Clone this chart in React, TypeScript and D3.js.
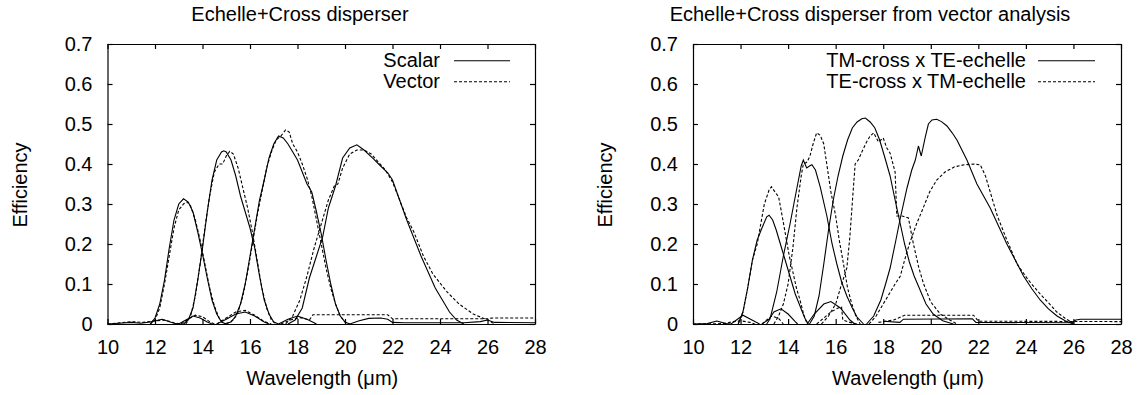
import * as d3 from "d3";
import React, { useEffect, useRef } from "react";

type Pt = [number, number];

// ---- left panel: scalar (solid) vs vector (dashed) ----
const scalarOrder1: Pt[] = [[11.8,0],[12.0,0.015],[12.2,0.05],[12.4,0.11],[12.6,0.19],[12.8,0.26],[13.0,0.30],[13.2,0.313],[13.4,0.305],[13.6,0.28],[13.8,0.23],[14.0,0.175],[14.2,0.115],[14.4,0.06],[14.6,0.025],[14.8,0.005],[15.0,0]];
const scalarOrder2: Pt[] = [[13.2,0],[13.4,0.01],[13.6,0.04],[13.8,0.11],[14.0,0.19],[14.2,0.28],[14.4,0.36],[14.6,0.41],[14.8,0.43],[14.9,0.433],[15.0,0.43],[15.2,0.41],[15.4,0.37],[15.6,0.32],[15.8,0.28],[16.0,0.24],[16.2,0.19],[16.4,0.12],[16.6,0.06],[16.8,0.025],[17.0,0.005],[17.2,0]];
const scalarOrder3: Pt[] = [[14.9,0],[15.2,0.005],[15.4,0.02],[15.6,0.05],[15.8,0.10],[16.0,0.17],[16.2,0.24],[16.4,0.31],[16.6,0.36],[16.8,0.415],[17.0,0.45],[17.2,0.47],[17.4,0.465],[17.6,0.45],[17.8,0.43],[18.0,0.41],[18.2,0.38],[18.4,0.35],[18.6,0.33],[18.8,0.28],[19.0,0.225],[19.2,0.16],[19.4,0.10],[19.6,0.05],[19.8,0.02],[20.0,0.005],[20.2,0]];
const scalarOrder4: Pt[] = [[17.6,0],[17.9,0.01],[18.2,0.04],[18.5,0.115],[18.8,0.17],[19.06,0.218],[19.3,0.29],[19.6,0.345],[19.9,0.415],[20.2,0.44],[20.5,0.448],[20.8,0.435],[21.2,0.413],[21.5,0.395],[21.8,0.378],[22.0,0.36],[22.3,0.31],[22.6,0.26],[22.9,0.215],[23.2,0.17],[23.5,0.13],[23.8,0.09],[24.1,0.06],[24.4,0.03],[24.7,0.01],[25.0,0]];
const scalarSmall1: Pt[] = [[10.0,0],[10.5,0.002],[11.0,0.004],[11.4,0.002],[11.8,0.005],[12.3,0.012],[12.8,0.002],[13.0,0]];
const scalarSmall2: Pt[] = [[13.0,0],[13.3,0.01],[13.6,0.02],[13.9,0.015],[14.2,0.005],[14.4,0]];
const scalarSmall3: Pt[] = [[14.6,0],[15.0,0.012],[15.4,0.025],[15.8,0.03],[16.2,0.02],[16.6,0.005],[16.8,0]];
const scalarSmall4: Pt[] = [[17.2,0],[17.6,0.012],[18.0,0.02],[18.4,0.012],[18.8,0]];
const scalarSmall5: Pt[] = [[20.2,0],[20.6,0.008],[21.0,0.014],[21.5,0.015],[21.8,0.012],[22.0,0.004],[22.5,0.003],[25.0,0.003],[25.7,0.006],[26.0,0.01],[26.3,0.004],[28.0,0.003]];

const vectorOrder1: Pt[] = [[11.8,0],[12.0,0.01],[12.2,0.04],[12.4,0.10],[12.6,0.17],[12.8,0.24],[13.0,0.285],[13.2,0.30],[13.35,0.305],[13.5,0.295],[13.7,0.26],[13.9,0.21],[14.1,0.15],[14.3,0.09],[14.5,0.045],[14.7,0.015],[14.9,0]];
const vectorOrder2: Pt[] = [[13.3,0],[13.5,0.02],[13.7,0.07],[13.9,0.15],[14.1,0.24],[14.3,0.32],[14.5,0.38],[14.7,0.40],[14.85,0.40],[15.0,0.42],[15.15,0.432],[15.3,0.425],[15.5,0.39],[15.7,0.34],[15.9,0.29],[16.1,0.23],[16.3,0.16],[16.5,0.09],[16.7,0.04],[16.9,0.01],[17.1,0]];
const vectorOrder3: Pt[] = [[15.0,0],[15.3,0.01],[15.5,0.03],[15.7,0.07],[15.9,0.13],[16.1,0.2],[16.3,0.27],[16.5,0.33],[16.7,0.39],[16.9,0.43],[17.1,0.46],[17.3,0.47],[17.5,0.485],[17.65,0.48],[17.8,0.45],[18.0,0.43],[18.2,0.40],[18.4,0.365],[18.6,0.32],[18.8,0.26],[19.0,0.20],[19.2,0.14],[19.4,0.09],[19.6,0.05],[19.8,0.02],[20.0,0.005],[20.2,0]];
const vectorOrder4: Pt[] = [[17.5,0],[17.8,0.02],[18.1,0.06],[18.4,0.12],[18.7,0.19],[19.0,0.25],[19.3,0.31],[19.55,0.345],[19.7,0.35],[19.9,0.39],[20.2,0.425],[20.5,0.435],[20.8,0.435],[21.1,0.425],[21.4,0.405],[21.7,0.385],[22.0,0.355],[22.3,0.31],[22.6,0.265],[22.9,0.23],[23.3,0.17],[23.7,0.125],[24.3,0.08],[24.8,0.05],[25.4,0.025],[26.0,0.01],[26.3,0]];
const vectorSmall1: Pt[] = [[10.0,0],[10.5,0.003],[11.0,0.006],[11.5,0.004],[12.0,0.008],[12.4,0.01],[12.8,0.003],[13.1,0]];
const vectorSmall2: Pt[] = [[13.1,0],[13.4,0.012],[13.7,0.022],[14.0,0.018],[14.3,0.006],[14.5,0]];
const vectorSmall3: Pt[] = [[14.6,0],[15.0,0.015],[15.4,0.03],[15.8,0.034],[16.2,0.022],[16.6,0.006],[16.9,0]];
const vectorSmall4: Pt[] = [[17.3,0],[17.7,0.01],[18.1,0.016],[18.5,0.01],[18.65,0.023],[21.8,0.023],[22.0,0.013],[26.0,0.013],[26.2,0.015],[28.0,0.015]];

// ---- right panel: TM-cross x TE-echelle (solid) vs TE-cross x TM-echelle (dashed) ----
const tmOrder1: Pt[] = [[11.9,0],[12.1,0.03],[12.3,0.09],[12.5,0.16],[12.7,0.21],[12.9,0.24],[13.1,0.268],[13.2,0.272],[13.35,0.26],[13.5,0.235],[13.7,0.195],[13.9,0.155],[14.1,0.115],[14.3,0.075],[14.5,0.045],[14.7,0.015],[14.85,0]];
const tmOrder2: Pt[] = [[13.1,0],[13.24,0.013],[13.52,0.08],[13.8,0.17],[14.08,0.25],[14.37,0.34],[14.55,0.395],[14.64,0.41],[14.78,0.39],[14.9,0.395],[15.0,0.398],[15.15,0.385],[15.35,0.343],[15.63,0.27],[15.85,0.2],[16.05,0.15],[16.25,0.105],[16.47,0.07],[16.7,0.04],[16.89,0.018],[17.17,0]];
const tmOrder3: Pt[] = [[14.9,0],[15.1,0.02],[15.3,0.07],[15.5,0.15],[15.7,0.235],[15.9,0.31],[16.1,0.37],[16.3,0.42],[16.5,0.46],[16.7,0.49],[16.9,0.505],[17.1,0.513],[17.25,0.515],[17.45,0.505],[17.65,0.49],[17.85,0.46],[18.05,0.42],[18.29,0.37],[18.5,0.31],[18.7,0.255],[18.9,0.2],[19.1,0.155],[19.3,0.12],[19.55,0.085],[19.8,0.05],[20.1,0.025],[20.5,0.008],[20.95,0]];
const tmOrder4: Pt[] = [[17.3,0],[17.6,0.02],[17.9,0.06],[18.1,0.1],[18.29,0.14],[18.5,0.2],[18.72,0.265],[19.0,0.34],[19.2,0.385],[19.35,0.41],[19.48,0.445],[19.6,0.42],[19.77,0.468],[19.9,0.5],[20.05,0.51],[20.25,0.512],[20.45,0.506],[20.68,0.495],[20.9,0.478],[21.1,0.46],[21.52,0.41],[21.94,0.35],[22.5,0.29],[22.85,0.245],[23.2,0.2],[23.55,0.16],[23.9,0.12],[24.25,0.088],[24.6,0.06],[24.95,0.038],[25.31,0.02],[25.65,0.008],[26.0,0]];
const tmSmall1: Pt[] = [[10.0,0],[10.6,0.001],[11.0,0.0075],[11.4,0.001],[11.6,0],[12.1,0.022],[12.6,0.006],[12.8,0]];
const tmSmall2: Pt[] = [[12.9,0],[13.2,0.012],[13.4,0.03],[13.7,0.038],[14.0,0.025],[14.3,0.006],[14.4,0]];
const tmSmall3: Pt[] = [[14.8,0],[15.1,0.025],[15.5,0.05],[15.8,0.056],[16.2,0.04],[16.6,0.01],[16.8,0]];
const tmSmall4: Pt[] = [[18.0,0.007],[18.7,0.004],[18.85,0.012],[21.75,0.013],[21.9,0.004],[25.9,0.003],[26.1,0.01],[26.3,0.012],[28.0,0.012]];

const teOrder1: Pt[] = [[11.9,0],[12.1,0.03],[12.3,0.09],[12.5,0.16],[12.7,0.20],[12.85,0.25],[13.0,0.3],[13.2,0.335],[13.3,0.343],[13.45,0.33],[13.6,0.318],[13.75,0.27],[13.9,0.22],[14.05,0.17],[14.2,0.13],[14.35,0.09],[14.5,0.06],[14.65,0.025],[14.8,0]];
const teOrder2: Pt[] = [[13.4,0],[13.6,0.02],[13.8,0.05],[14.0,0.1],[14.2,0.19],[14.37,0.29],[14.55,0.37],[14.64,0.40],[14.8,0.405],[14.92,0.42],[15.05,0.45],[15.2,0.478],[15.35,0.472],[15.5,0.45],[15.65,0.39],[15.8,0.33],[16.0,0.27],[16.15,0.21],[16.33,0.15],[16.5,0.09],[16.68,0.05],[16.85,0.02],[17.03,0]];
const teOrder3: Pt[] = [[15.4,0],[15.7,0.02],[16.0,0.05],[16.2,0.09],[16.47,0.14],[16.6,0.22],[16.72,0.32],[16.82,0.4],[16.95,0.41],[17.1,0.43],[17.3,0.455],[17.45,0.47],[17.6,0.478],[17.8,0.455],[18.0,0.465],[18.15,0.44],[18.29,0.427],[18.5,0.38],[18.57,0.27],[18.8,0.27],[19.06,0.265],[19.27,0.2],[19.5,0.14],[19.7,0.1],[20.0,0.055],[20.4,0.025],[20.8,0.01],[21.1,0]];
const teOrder4: Pt[] = [[17.4,0],[17.7,0.02],[18.0,0.05],[18.3,0.08],[18.5,0.1],[18.72,0.12],[18.9,0.16],[19.1,0.2],[19.4,0.25],[19.68,0.29],[19.95,0.33],[20.25,0.36],[20.6,0.38],[21.0,0.393],[21.4,0.398],[21.8,0.4],[22.08,0.398],[22.3,0.37],[22.55,0.32],[22.8,0.27],[23.2,0.21],[23.63,0.15],[24.1,0.11],[24.6,0.075],[25.0,0.05],[25.3,0.03],[25.7,0.012],[26.1,0]];
const teSmall1: Pt[] = [[10.0,0],[11.3,0.001],[11.7,0.006],[12.0,0.008],[12.4,0.004],[12.6,0]];
const teSmall2: Pt[] = [[12.9,0],[13.1,0.01],[13.3,0.02],[13.6,0.014],[13.8,0]];
const teSmall3: Pt[] = [[15.2,0],[15.5,0.015],[15.8,0.03],[16.1,0.04],[16.25,0.042],[16.3,0.01],[16.6,0.004],[16.9,0]];
const teSmall4: Pt[] = [[17.8,0.004],[18.44,0.01],[18.9,0.022],[21.8,0.022],[22.0,0.007],[28.0,0.006]];

const xTicks = [10, 12, 14, 16, 18, 20, 22, 24, 26, 28];
const yTicks = [0, 0.1, 0.2, 0.3, 0.4, 0.5, 0.6, 0.7];

const panels = [
  {
    title: "Echelle+Cross disperser",
    titleX: 300,
    x0: 107.5,
    x1: 535,
    solid: [scalarOrder1, scalarOrder2, scalarOrder3, scalarOrder4, scalarSmall1, scalarSmall2, scalarSmall3, scalarSmall4, scalarSmall5],
    dashed: [vectorOrder1, vectorOrder2, vectorOrder3, vectorOrder4, vectorSmall1, vectorSmall2, vectorSmall3, vectorSmall4],
    legend: ["Scalar", "Vector"],
    legendTextX: 440,
    legendLine: [454, 510],
  },
  {
    title: "Echelle+Cross disperser from vector analysis",
    titleX: 870,
    x0: 693,
    x1: 1121,
    solid: [tmOrder1, tmOrder2, tmOrder3, tmOrder4, tmSmall1, tmSmall2, tmSmall3, tmSmall4],
    dashed: [teOrder1, teOrder2, teOrder3, teOrder4, teSmall1, teSmall2, teSmall3, teSmall4],
    legend: ["TM-cross x TE-echelle", "TE-cross x TM-echelle"],
    legendTextX: 1026,
    legendLine: [1038, 1095],
  },
];

const FONT = "'Liberation Sans', Arial, Helvetica, sans-serif";

export default function App() {
  const svgRef = useRef(null);
  const width = 1141;
  const height = 395;
  const yTop = 44;
  const yBottom = 324;

  useEffect(() => {
    const svgEl = d3.select(svgRef.current);
    svgEl.selectAll("*").remove();

    const y = d3.scaleLinear().domain([0, 0.7]).range([yBottom, yTop]);
    const yFmt = (d) => (d === 0 ? "0" : d3.format(".1f")(d));

    panels.forEach((p) => {
      const x = d3.scaleLinear().domain([10, 28]).range([p.x0, p.x1]);
      const g = svgEl.append("g");

      const line = d3
        .line<Pt>()
        .x((d) => x(d[0]))
        .y((d) => y(d[1]));

      // curves
      p.solid.forEach((s) => {
        g.append("path")
          .attr("d", line(s))
          .attr("fill", "none")
          .attr("stroke", "#000")
          .attr("stroke-width", 1.1);
      });
      p.dashed.forEach((s) => {
        g.append("path")
          .attr("d", line(s))
          .attr("fill", "none")
          .attr("stroke", "#000")
          .attr("stroke-width", 1.1)
          .attr("stroke-dasharray", "3,2");
      });

      /* axes, ticks inward on all four sides */
      const bottom = g
        .append("g")
        .attr("transform", "translate(0," + yBottom + ")")
        .call(d3.axisBottom(x).tickValues(xTicks).tickSizeInner(-5).tickSizeOuter(0).tickPadding(16));
      const top = g
        .append("g")
        .attr("transform", "translate(0," + yTop + ")")
        .call(d3.axisTop(x).tickValues(xTicks).tickSizeInner(-5).tickSizeOuter(0).tickFormat(() => ""));
      const left = g
        .append("g")
        .attr("transform", "translate(" + p.x0 + ",0)")
        .call(d3.axisLeft(y).tickValues(yTicks).tickSizeInner(-5).tickSizeOuter(0).tickPadding(15).tickFormat(yFmt));
      const right = g
        .append("g")
        .attr("transform", "translate(" + p.x1 + ",0)")
        .call(d3.axisRight(y).tickValues(yTicks).tickSizeInner(-5).tickSizeOuter(0).tickFormat(() => ""));

      [bottom, top, left, right].forEach((a) => {
        a.attr("font-family", FONT).attr("font-size", 20);
        a.selectAll("path, line").attr("stroke", "#000").attr("stroke-width", 1.2);
        a.selectAll("text").attr("fill", "#000");
      });

      // title and axis labels
      g.append("text")
        .attr("x", p.titleX)
        .attr("y", 21)
        .attr("text-anchor", "middle")
        .attr("font-family", FONT)
        .attr("font-size", 20)
        .text(p.title);
      g.append("text")
        .attr("x", (p.x0 + p.x1) / 2 + 1)
        .attr("y", 385)
        .attr("text-anchor", "middle")
        .attr("font-family", FONT)
        .attr("font-size", 20)
        .text("Wavelength (\u03bcm)");
      g.append("text")
        .attr("transform", "translate(" + (p.x0 - 81) + ",185) rotate(-90)")
        .attr("text-anchor", "middle")
        .attr("font-family", FONT)
        .attr("font-size", 20)
        .text("Efficiency");

      // legend
      p.legend.forEach((label, i) => {
        const ly = 60.7 + i * 21;
        g.append("text")
          .attr("x", p.legendTextX)
          .attr("y", ly + 6.5)
          .attr("text-anchor", "end")
          .attr("font-family", FONT)
          .attr("font-size", 20)
          .text(label);
        g.append("line")
          .attr("x1", p.legendLine[0])
          .attr("x2", p.legendLine[1])
          .attr("y1", ly)
          .attr("y2", ly)
          .attr("stroke", "#000")
          .attr("stroke-width", 1.1)
          .attr("stroke-dasharray", i === 0 ? null : "3,2");
      });
    });
  });

  return (
    <div style={{ position: "absolute", left: 0, top: 0 }}>
      <svg width={width} height={height} ref={svgRef} style={{ display: "block", background: "#fff" }}></svg>
    </div>
  );
}
